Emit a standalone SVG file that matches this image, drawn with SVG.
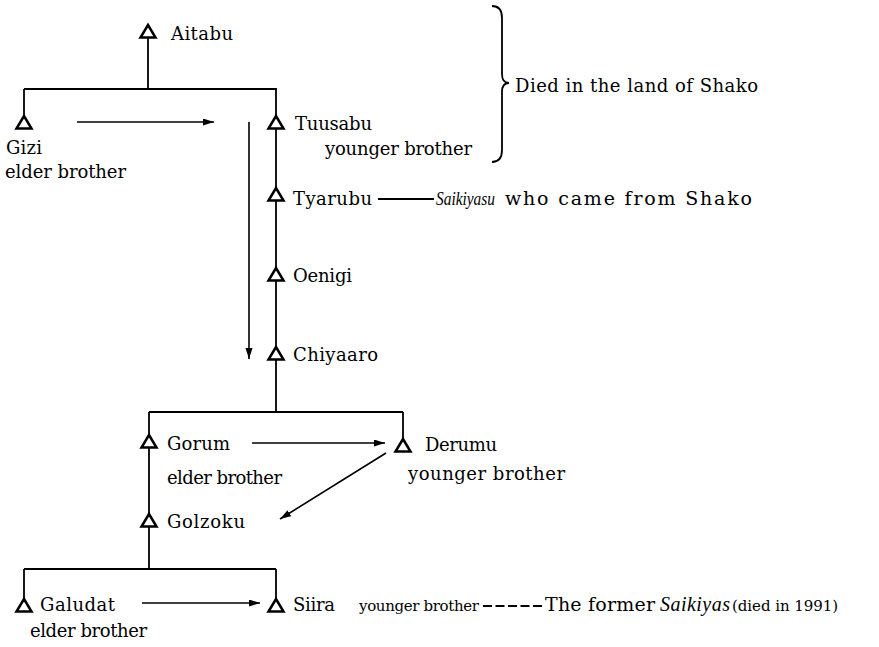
<svg xmlns="http://www.w3.org/2000/svg" width="879" height="647" viewBox="0 0 879 647">
<style>
.t{font-family:"DejaVu Serif","Liberation Serif",serif;font-size:18px;fill:#000}
.s{font-size:15px}
.i{font-family:"Liberation Serif","Times New Roman",serif;font-style:italic}
.ln{stroke:#000;stroke-width:1.8;fill:none}
.ar{stroke:#000;stroke-width:1.6;fill:none;marker-end:url(#ah)}
</style>
<defs>
<marker id="ah" markerUnits="userSpaceOnUse" markerWidth="12" markerHeight="8" refX="11" refY="3.5" orient="auto">
<path d="M0,0 L11,3.5 L0,7 Z" fill="#000"/>
</marker>
<path id="tri" d="M0,0 L7.5,12.5 L-7.5,12.5 Z" fill="#fff" stroke="#000" stroke-width="2.5"/>
</defs>
<rect width="879" height="647" fill="#fff"/>
<g id="connectors">
<path class="ln" d="M148,37 V89 M24,89 H277 M24,89 V116 M276,89 V412 M149,412 H403 M403,412 V439 M149,412 V569 M24,569 H276 M24,569 V599 M276,569 V599"/>
<line class="ar" x1="77" y1="122" x2="214" y2="122"/>
<line class="ar" x1="249" y1="122" x2="249" y2="359"/>
<line class="ar" x1="252" y1="443" x2="385" y2="443"/>
<line class="ar" x1="386" y1="453" x2="280" y2="519"/>
<line class="ar" x1="142" y1="603" x2="260" y2="603"/>
<line class="ln" x1="378" y1="199" x2="434" y2="199" stroke-width="1.4"/>
<line class="ln" x1="483" y1="606" x2="542" y2="606" stroke-width="1.6" stroke-dasharray="9,3.5"/>
<path class="ln" stroke-width="1.8" d="M492,6 Q502,6 502,18 L502,74 Q502,83 509,83 Q502,83 502,92 L502,150 Q502,162 492,162"/>
</g>
<g id="aitabu"><use href="#tri" x="148" y="25"/><text class="t" x="171" y="40" textLength="62" lengthAdjust="spacing">Aitabu</text></g>
<g id="gizi"><use href="#tri" x="24" y="116"/><text class="t" x="6" y="154" textLength="36" lengthAdjust="spacing">Gizi</text><text class="t" x="5" y="178" textLength="121" lengthAdjust="spacing">elder brother</text></g>
<g id="tuusabu"><use href="#tri" x="276" y="116"/><text class="t" x="295" y="130" textLength="77" lengthAdjust="spacing">Tuusabu</text><text class="t" x="325" y="155" textLength="147" lengthAdjust="spacing">younger brother</text></g>
<g id="shako-note"><text class="t" x="515" y="92" textLength="243" lengthAdjust="spacing">Died in the land of Shako</text></g>
<g id="tyarubu"><use href="#tri" x="276" y="188"/><text class="t" x="293" y="205" textLength="79" lengthAdjust="spacing">Tyarubu</text></g>
<g id="saikiyasu-note"><text class="t i" x="436" y="205" style="font-size:19px" textLength="59" lengthAdjust="spacingAndGlyphs">Saikiyasu</text><text class="t" x="505" y="205" style="font-size:19px" textLength="247" lengthAdjust="spacing">who came from Shako</text></g>
<g id="oenigi"><use href="#tri" x="276" y="268"/><text class="t" x="293" y="282" textLength="59" lengthAdjust="spacing">Oenigi</text></g>
<g id="chiyaaro"><use href="#tri" x="276" y="347"/><text class="t" x="293" y="361" textLength="85" lengthAdjust="spacing">Chiyaaro</text></g>
<g id="gorum"><use href="#tri" x="149" y="435"/><text class="t" x="167" y="450" textLength="63" lengthAdjust="spacing">Gorum</text><text class="t" x="167" y="484" textLength="115" lengthAdjust="spacing">elder brother</text></g>
<g id="derumu"><use href="#tri" x="403" y="439"/><text class="t" x="425" y="451" textLength="72" lengthAdjust="spacing">Derumu</text><text class="t" x="408" y="480" textLength="157" lengthAdjust="spacing">younger brother</text></g>
<g id="golzoku"><use href="#tri" x="149" y="514"/><text class="t" x="167" y="528" textLength="78" lengthAdjust="spacing">Golzoku</text></g>
<g id="galudat"><use href="#tri" x="24" y="599"/><text class="t" x="40" y="611" textLength="75" lengthAdjust="spacing">Galudat</text><text class="t" x="30" y="637" textLength="117" lengthAdjust="spacing">elder brother</text></g>
<g id="siira"><use href="#tri" x="276" y="599"/><text class="t" x="293" y="611" textLength="42" lengthAdjust="spacing">Siira</text><text class="t s" x="359" y="611" textLength="120" lengthAdjust="spacing">younger brother</text></g>
<g id="saikiyas-note"><text class="t" x="545" y="611" style="font-size:19px" textLength="110" lengthAdjust="spacing">The former</text><text class="t i" x="660" y="611" style="font-size:20px" textLength="70" lengthAdjust="spacing">Saikiyas</text><text class="t" x="732" y="611" style="font-size:15px" textLength="106" lengthAdjust="spacing">(died in 1991)</text></g>
</svg>
